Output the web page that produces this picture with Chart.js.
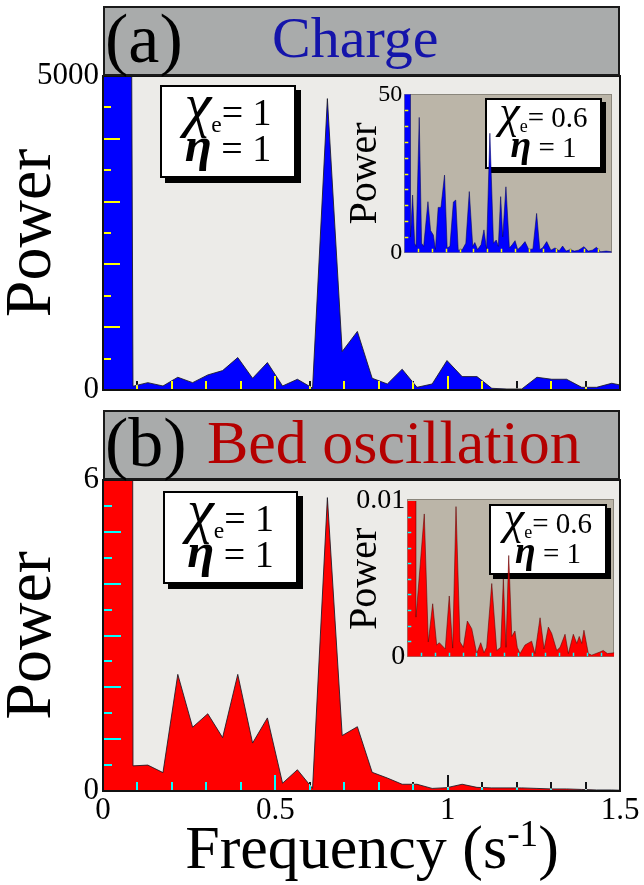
<!DOCTYPE html>
<html><head><meta charset="utf-8">
<script src="https://cdn.jsdelivr.net/npm/chart.js@4.4.1/dist/chart.umd.min.js"></script>
<style>
html,body{margin:0;padding:0;background:#fff;}
body{width:644px;height:885px;position:relative;overflow:hidden;font-family:"Liberation Serif","Times New Roman",serif;color:#000;}
canvas{position:absolute;display:block;}
.bar{position:absolute;left:103px;width:517px;height:70px;background:#a9abab;border:2px solid #1a1a1a;box-sizing:border-box;}
.t{position:absolute;white-space:nowrap;line-height:1;}
.box{position:absolute;background:#fff;border:2px solid #000;box-sizing:border-box;text-align:center;white-space:nowrap;}
.big{font-size:38px;line-height:36px;padding-top:7px;box-shadow:5px 5px 0 #000;}
.small{font-size:29px;line-height:30px;padding-top:2px;box-shadow:4px 4px 0 #000;}
.chi{font-style:italic;font-size:1.6em;line-height:0;}
.sub{font-size:0.62em;vertical-align:-0.3em;line-height:0;}
.eta{font-style:italic;font-weight:bold;font-size:1.3em;line-height:0;}
.inbg{position:absolute;background:#bbb5a8;border:1px solid #8a867c;box-sizing:border-box;}
sup{font-size:0.6em;line-height:0;vertical-align:0.6em;}
</style></head><body>
<canvas id="cA" width="644" height="370" style="left:0;top:40px"></canvas>
<canvas id="cB" width="644" height="445" style="left:0;top:440px"></canvas>

<div class="bar" style="top:6px"></div>
<div class="t" style="left:105px;top:4px;font-size:70px">(a)</div>
<div class="t" style="left:272px;top:9px;font-size:58px;color:#1414aa">Charge</div>

<div class="bar" style="top:410px"></div>
<div class="t" style="left:105px;top:408px;font-size:70px">(b)</div>
<div class="t" style="left:207px;top:411px;font-size:62px;color:#b40000">Bed oscillation</div>

<div class="box big" style="left:160px;top:85px;width:136px;height:93px"><div><span class="chi">χ</span><span class="sub">e</span>= 1</div><div><span class="eta">η</span> = 1</div></div>
<div class="box big" style="left:163px;top:491px;width:135px;height:93px"><div><span class="chi">χ</span><span class="sub">e</span>= 1</div><div><span class="eta">η</span> = 1</div></div>

<div class="inbg" style="left:404px;top:94px;width:208px;height:159px"></div>
<div class="inbg" style="left:407px;top:499px;width:207px;height:158px"></div>
<div class="box small" style="left:485px;top:98px;width:117px;height:71px"><div><span class="chi">χ</span><span class="sub">e</span>= 0.6</div><div><span class="eta">η</span> = 1</div></div>
<div class="box small" style="left:489px;top:504px;width:118px;height:71px"><div><span class="chi">χ</span><span class="sub">e</span>= 0.6</div><div><span class="eta">η</span> = 1</div></div>

<canvas id="cIA" width="280" height="190" style="left:340px;top:80px"></canvas>
<canvas id="cIB" width="280" height="190" style="left:340px;top:485px"></canvas>

<div class="t" style="left:100px;width:544px;text-align:center;top:816px;font-size:62px">Frequency (s<sup>-1</sup>)</div>

<script>
// ---------- data ----------
const freqMain = [0, 0.043, 0.087, 0.130, 0.174, 0.217, 0.260, 0.304, 0.347, 0.391, 0.434, 0.477, 0.521, 0.564, 0.608, 0.651, 0.694, 0.738, 0.781, 0.825, 0.868, 0.911, 0.955, 0.998, 1.042, 1.085, 1.128, 1.172, 1.215, 1.259, 1.302, 1.345, 1.389, 1.432, 1.476, 1.519];
const chargePower = [60000, 60000, 60, 117, 64, 203, 117, 240, 309, 517, 187, 437, 64, 171, 30, 4640, 613, 933, 187, 96, 331, 43, 96, 469, 213, 213, 27, 16, 16, 203, 171, 171, 43, 43, 107, 60];
const bedPower = [300, 300, 0.485, 0.5, 0.355, 2.25, 1.23, 1.49, 1.03, 2.25, 0.925, 1.41, 0.15, 0.41, 0.05, 5.66, 1.07, 1.24, 0.36, 0.25, 0.13, 0.13, 0.05, 0.065, 0.13, 0.07, 0.06, 0.06, 0.06, 0.05, 0.04, 0.04, 0.03, 0.02, 0.02, 0.01];

const freqInsetCharge = [0,0.04,0.045,0.06,0.075,0.085,0.108,0.125,0.14,0.171,0.19,0.21,0.225,0.245,0.265,0.291,0.31,0.33,0.355,0.372,0.39,0.42,0.445,0.47,0.495,0.51,0.53,0.555,0.576,0.595,0.619,0.645,0.665,0.68,0.697,0.712,0.735,0.76,0.78,0.801,0.82,0.845,0.873,0.9,0.93,0.957,0.98,1.0,1.03,1.06,1.09,1.12,1.145,1.17,1.2,1.23,1.26,1.3,1.33,1.36,1.39,1.42,1.46,1.5];
const powerInsetCharge = [600,600,5,18.2,3,2,42.7,3,2,16.1,7,5.6,1,14.3,14.3,24.5,1.5,2,16,16.6,0.8,1,3,19.3,2,3.2,1,2.5,7.2,1,37.7,3,4,2,17.7,5,20.8,1.5,2.5,3.8,1,2,3.5,1,1.2,12.4,1,1.5,3.5,0.8,1.5,0.6,2.1,0.5,1,0.5,0.8,1.9,0.5,0.8,1.7,0.3,0.5,0.3];

const freqInsetBed = [0,0.055,0.063,0.123,0.152,0.184,0.213,0.232,0.275,0.304,0.329,0.353,0.382,0.406,0.435,0.467,0.503,0.532,0.556,0.575,0.612,0.648,0.677,0.696,0.715,0.735,0.757,0.78,0.797,0.817,0.853,0.901,0.925,0.962,0.991,1.022,1.046,1.083,1.107,1.143,1.167,1.203,1.228,1.246,1.264,1.28,1.312,1.336,1.396,1.42,1.45,1.5];
const powerInsetBed = [0.5,0.5,0.00254,0.00917,0.00095,0.0034,0.00075,0.0009,0.0005,0.0039,0.00055,0.00964,0.00095,0.0006,0.00229,0.0018,0.0002,0.0009,0.00025,0.0006,0.0047,0.0004,0.0006,0.005,0.0006,0.0065,0.0013,0.00165,0.0006,0.0002,0.00075,0.001,0.0002,0.0025,0.0005,0.0019,0.0015,0.0004,0.0006,0.00144,0.0002,0.00144,0.00085,0.0013,0.00085,0.0017,0.0002,0.0001,0.0003,0.0004,0.0002,0.00025];

const xTickLabels = ['0', '0.5', '1', '1.5'];
const yLabelsCharge = ['0', '5000'];
const yLabelsBed = ['0', '6'];
const yLabelsInsetCharge = ['0', '50'];
const yLabelsInsetBed = ['0', '0.01'];

// ---------- helpers ----------
const SERIF = "'Liberation Serif','Times New Roman',serif";
const pts = (xs, ys) => xs.map((x, i) => ({x: x, y: ys[i]}));
const isMult = (v, m) => Math.abs(v / m - Math.round(v / m)) < 1e-6;
const pick = list => v => list.includes(String(+v.toFixed(6))) ? String(+v.toFixed(6)) : '';

const deco = {
  id: 'deco',
  beforeDatasetsDraw(chart, args, o) {
    if (!o.bg) return;
    const {ctx, chartArea: a} = chart;
    ctx.save(); ctx.fillStyle = o.bg;
    ctx.fillRect(a.left, a.top, a.right - a.left, a.bottom - a.top);
    ctx.restore();
  },
  afterDatasetsDraw(chart, args, o) {
    const {ctx, chartArea: a} = chart;
    const x = chart.scales.x, y = chart.scales.y;
    const segs = [];
    x.ticks.forEach(t => {
      const v = t.value;
      if (v <= x.min + 1e-9 || v >= x.max - 1e-9) return;
      const p = Math.round(x.getPixelForValue(v)) + (o.tickW % 2 ? 0.5 : 0);
      const L = isMult(v, o.xMajor) ? o.xLong : o.xShort;
      segs.push([p, a.bottom, p, a.bottom - L]);
    });
    y.ticks.forEach(t => {
      const v = t.value;
      if (v <= y.min + 1e-12 || v >= y.max - 1e-12) return;
      const p = Math.round(y.getPixelForValue(v)) + (o.tickW % 2 ? 0.5 : 0);
      const L = isMult(v, o.yMajor) ? o.yLong : o.yShort;
      segs.push([a.left, p, a.left + L, p]);
    });
    const draw = () => { ctx.beginPath(); segs.forEach(s => { ctx.moveTo(s[0], s[1]); ctx.lineTo(s[2], s[3]); }); ctx.stroke(); };
    ctx.save();
    ctx.lineWidth = o.tickW; ctx.lineCap = 'butt';
    if (o.mode === 'difference') {
      ctx.globalCompositeOperation = 'difference'; ctx.strokeStyle = '#ffffff'; draw();
    } else {
      ctx.globalCompositeOperation = 'source-atop'; ctx.strokeStyle = o.onData; draw();
      ctx.globalCompositeOperation = 'destination-over'; ctx.strokeStyle = o.onBg; draw();
    }
    ctx.restore();
    if (o.frame) {
      ctx.save(); ctx.strokeStyle = o.frame; ctx.lineWidth = o.frameW;
      ctx.strokeRect(a.left, a.top, a.right - a.left, a.bottom - a.top);
      ctx.restore();
    }
  }
};

function makeChart(id, cfg) {
  return new Chart(document.getElementById(id), {
    type: 'line',
    data: {datasets: [{
      data: pts(cfg.xs, cfg.ys), fill: 'origin', backgroundColor: cfg.color,
      borderColor: cfg.edge, borderWidth: cfg.edgeW, pointRadius: 0, tension: 0
    }]},
    options: {
      responsive: false, animation: false, events: [],
      layout: {padding: cfg.pad},
      plugins: {legend: {display: false}, tooltip: {enabled: false}, deco: cfg.deco},
      scales: {
        x: {
          type: 'linear', min: 0, max: 1.5,
          ticks: {stepSize: 0.1, autoSkip: false, maxRotation: 0, display: !!cfg.xLabels,
            padding: cfg.xPad || 0, color: '#000', font: {family: SERIF, size: cfg.xFont || 31, lineHeight: 1},
            callback: cfg.xLabels ? pick(cfg.xLabels) : () => ''},
          grid: {display: false, drawTicks: false}, border: {display: false},
          afterFit: s => { s.height = cfg.xH; }
        },
        y: {
          type: 'linear', min: 0, max: cfg.ymax,
          ticks: {stepSize: cfg.ystep, autoSkip: false, padding: cfg.yPad, color: '#000',
            font: {family: SERIF, size: cfg.yFont, lineHeight: 1}, callback: pick(cfg.yLabels)},
          grid: {display: false, drawTicks: false}, border: {display: false},
          title: {display: true, text: 'Power', color: '#000',
            font: {family: SERIF, size: cfg.titleSize, lineHeight: 1}, padding: {top: cfg.titlePad, bottom: 0}},
          afterFit: s => { s.width = cfg.yW; }
        }
      }
    },
    plugins: [deco]
  });
}

const edgeDark = 'rgba(25,25,35,0.85)';

makeChart('cA', {
  xs: freqMain, ys: chargePower, color: '#0000ff', edge: edgeDark, edgeW: 1,
  pad: {top: 36, right: 24, left: 0, bottom: 0}, xH: 20,
  ymax: 5000, ystep: 500, yLabels: yLabelsCharge, yFont: 31, yPad: 4, yW: 103,
  titleSize: 66, titlePad: 0,
  deco: {bg: '#ecebe8', mode: 'difference', tickW: 2, xMajor: 0.5, xLong: 14, xShort: 9, yMajor: 1000, yLong: 17, yShort: 8, frame: '#111', frameW: 2}
});

makeChart('cB', {
  xs: freqMain, ys: bedPower, color: '#ff0000', edge: edgeDark, edgeW: 1,
  pad: {top: 40, right: 24, left: 0, bottom: 0}, xH: 94, xLabels: xTickLabels, xFont: 31, xPad: 4,
  ymax: 6, ystep: 0.5, yLabels: yLabelsBed, yFont: 31, yPad: 4, yW: 103,
  titleSize: 66, titlePad: 0,
  deco: {bg: '#ecebe8', mode: 'difference', tickW: 2, xMajor: 0.5, xLong: 16, xShort: 9, yMajor: 1, yLong: 18, yShort: 9, frame: '#111', frameW: 2}
});

makeChart('cIA', {
  xs: freqInsetCharge, ys: powerInsetCharge, color: '#0000ff', edge: 'rgba(0,0,90,0.7)', edgeW: 0.8,
  pad: {top: 14.3, right: 8.3, left: 0, bottom: 0}, xH: 17.3,
  ymax: 50, ystep: 5, yLabels: yLabelsInsetCharge, yFont: 24, yPad: 2, yW: 64.3,
  titleSize: 40, titlePad: 5,
  deco: {mode: 'split', onData: '#ffff00', onBg: '#44495a', tickW: 1.5, xMajor: 0.5, xLong: 4, xShort: 4, yMajor: 10, yLong: 4, yShort: 4}
});

makeChart('cIB', {
  xs: freqInsetBed, ys: powerInsetBed, color: '#ff0000', edge: 'rgba(90,0,0,0.7)', edgeW: 0.8,
  pad: {top: 14.3, right: 5.7, left: 0, bottom: 0}, xH: 18.3,
  ymax: 0.01, ystep: 0.001, yLabels: yLabelsInsetBed, yFont: 28, yPad: 2, yW: 67.3,
  titleSize: 40, titlePad: 5,
  deco: {mode: 'split', onData: '#00ffff', onBg: '#44495a', tickW: 1.5, xMajor: 0.5, xLong: 4, xShort: 4, yMajor: 0.002, yLong: 4, yShort: 4}
});
</script>
</body></html>
